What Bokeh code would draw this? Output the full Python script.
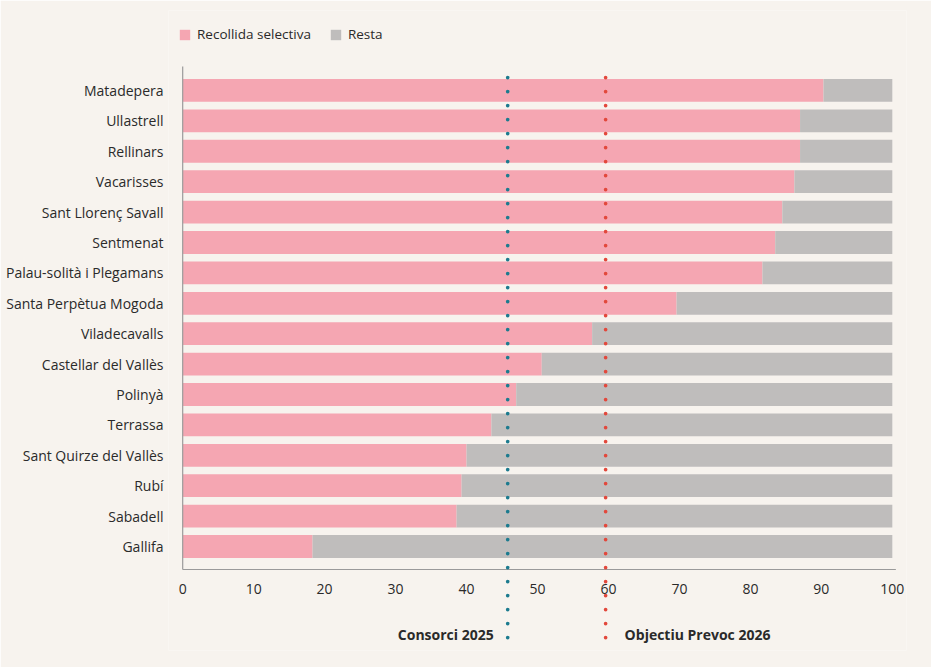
from bokeh.plotting import figure
from bokeh.models import (ColumnDataSource, Range1d, FixedTicker, Legend, LegendItem)
from bokeh.core.properties import value
from bokeh.embed import file_html
from bokeh.resources import INLINE

# ---- data ----
municipis = ["Matadepera", "Ullastrell", "Rellinars", "Vacarisses", "Sant Llorenç Savall",
             "Sentmenat", "Palau-solità i Plegamans", "Santa Perpètua Mogoda", "Viladecavalls",
             "Castellar del Vallès", "Polinyà", "Terrassa", "Sant Quirze del Vallès", "Rubí",
             "Sabadell", "Gallifa"]
recollida_selectiva = [90.3, 87.0, 87.0, 86.2, 84.5, 83.5, 81.7, 69.6, 57.7,
                       50.6, 47.0, 43.5, 40.0, 39.3, 38.6, 18.3]
total = 100
x_ticks = [0, 10, 20, 30, 40, 50, 60, 70, 80, 90, 100]
consorci_2025 = 45.8
objectiu_prevoc_2026 = 59.6
legend_labels = ["Recollida selectiva", "Resta"]
ref_labels = ["Consorci 2025", "Objectiu Prevoc 2026"]

# ---- styles ----
BG = "#f7f3ee"
PINK = "#f5a6b2"
GREY = "#bfbdbc"
TEAL = "#1c7b8f"
RED = "#e2483c"
AXIS = "#9a9a9a"
TEXT = "#2a2a2a"
FONT = "Open Sans"

n = len(municipis)
ys = [n - 1 - i for i in range(n)]
resta = [total - v for v in recollida_selectiva]
src = ColumnDataSource(dict(y=ys, sel=recollida_selectiva, resta=resta))

# frame: x 168..906, y 10..650 pixels
p = figure(width=931, height=667, output_backend="svg", toolbar_location=None,
           x_range=Range1d(-2, 102), y_range=Range1d(-3.42, 17.63),
           min_border_left=168, min_border_right=25, min_border_top=10, min_border_bottom=17,
           background_fill_color=BG, border_fill_color=BG, outline_line_color=None)
p.grid.visible = False

rs = p.hbar_stack(["sel", "resta"], y="y", height=0.75, color=[PINK, GREY],
                  line_color=None, source=src)

# axis lines
y_axis_pos = -23 / 30.4
y_top = 15 + 24 / 30.4
p.segment(x0=[0], y0=[y_axis_pos], x1=[0], y1=[y_top], line_color=AXIS, line_width=1.2)
p.segment(x0=[0], y0=[y_axis_pos], x1=[100.5], y1=[y_axis_pos], line_color=AXIS, line_width=1.2)

# reference dotted lines
line_bottom = -(637 - 546) / 30.4
p.segment(x0=[consorci_2025], y0=[line_bottom], x1=[consorci_2025], y1=[15 + 22 / 30.4],
          line_color=TEAL, line_width=3.7, line_dash="0 14", line_cap="round")
p.segment(x0=[objectiu_prevoc_2026], y0=[line_bottom], x1=[objectiu_prevoc_2026], y1=[15 + 19 / 30.4],
          line_color=RED, line_width=3.7, line_dash="0 14", line_cap="round")

label_y = -(634 - 546) / 30.4
p.text(x=[consorci_2025], y=[label_y], text=[ref_labels[0]], x_offset=-14,
       text_align="right", text_baseline="middle", text_font=value(FONT),
       text_font_style="bold", text_font_size="14px", text_color=TEXT)
p.text(x=[objectiu_prevoc_2026], y=[label_y], text=[ref_labels[1]], x_offset=19,
       text_align="left", text_baseline="middle", text_font=value(FONT),
       text_font_style="bold", text_font_size="14px", text_color=TEXT)

# x axis
xa = p.xaxis[0]
xa.fixed_location = y_axis_pos
xa.ticker = FixedTicker(ticks=x_ticks)
xa.axis_line_color = None
xa.major_tick_line_color = None
xa.minor_tick_line_color = None
xa.major_label_standoff = 8
xa.major_label_text_font = FONT
xa.major_label_text_font_size = "14px"
xa.major_label_text_color = TEXT

# y axis
ya = p.yaxis[0]
ya.ticker = FixedTicker(ticks=ys)
ya.major_label_overrides = {y: name for y, name in zip(ys, municipis)}
ya.axis_line_color = None
ya.major_tick_line_color = None
ya.minor_tick_line_color = None
ya.major_tick_out = 0
ya.major_tick_in = 0
ya.major_label_standoff = 5
ya.major_label_text_font = FONT
ya.major_label_text_font_size = "14px"
ya.major_label_text_color = TEXT

legend = Legend(items=[LegendItem(label=legend_labels[0], renderers=[rs[0]]),
                       LegendItem(label=legend_labels[1], renderers=[rs[1]])],
                location=(10, 607), orientation="horizontal",
                glyph_width=13, glyph_height=13, label_height=13,
                label_standoff=6, spacing=18, padding=0, margin=0,
                background_fill_alpha=0, border_line_color=None,
                label_text_font=FONT, label_text_font_size="13.5px", label_text_color=TEXT)
p.add_layout(legend, "center")

open("out.html", "w").write(file_html(p, INLINE))
